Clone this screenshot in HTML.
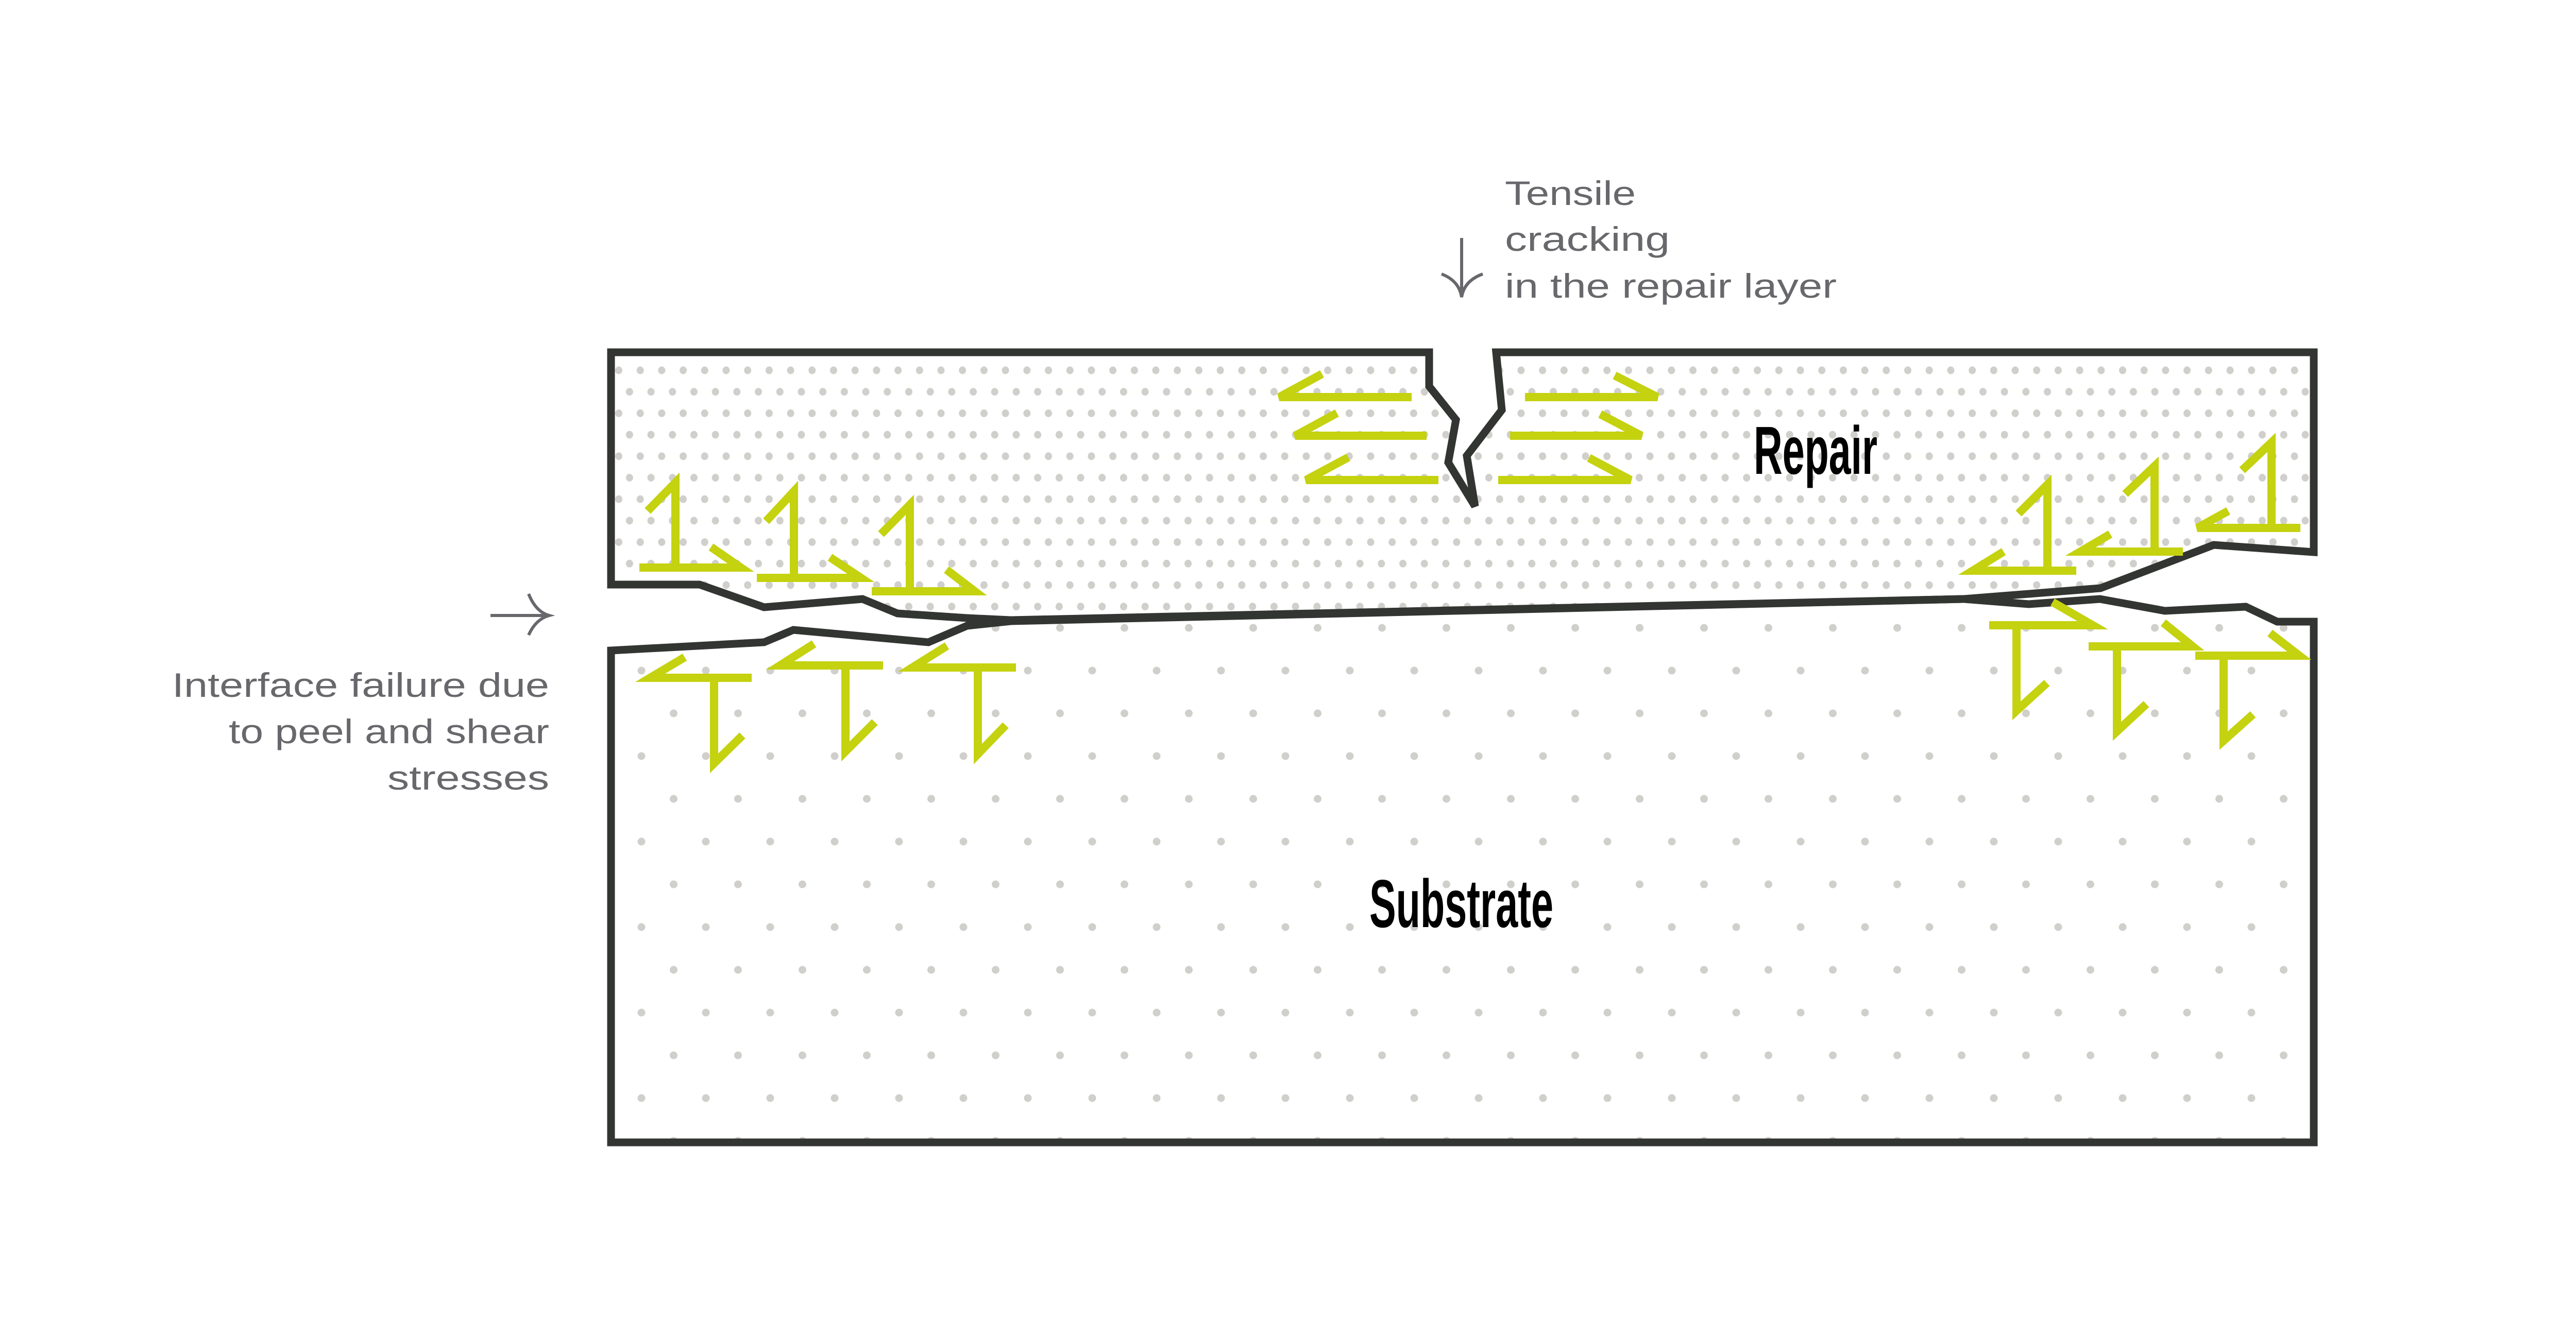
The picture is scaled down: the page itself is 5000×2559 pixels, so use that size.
<!DOCTYPE html>
<html><head><meta charset="utf-8"><style>
html,body{margin:0;padding:0;background:#fff;}
svg{display:block;}
</style></head><body>
<svg width="5000" height="2559" viewBox="0 0 5000 2559" xmlns="http://www.w3.org/2000/svg">
<defs>
<pattern id="rp" x="1201" y="719" width="41.7" height="83.4" patternUnits="userSpaceOnUse">
<ellipse cx="0" cy="0" rx="7" ry="7.5" fill="#d0cfcb"/>
<ellipse cx="41.7" cy="0" rx="7" ry="7.5" fill="#d0cfcb"/>
<ellipse cx="0" cy="83.4" rx="7" ry="7.5" fill="#d0cfcb"/>
<ellipse cx="41.7" cy="83.4" rx="7" ry="7.5" fill="#d0cfcb"/>
<ellipse cx="20.85" cy="41.7" rx="7" ry="7.5" fill="#d0cfcb"/>
</pattern>
<pattern id="sp" x="1245" y="1302" width="125" height="166" patternUnits="userSpaceOnUse">
<circle cx="0" cy="0" r="7.5" fill="#d0cfcb"/>
<circle cx="125" cy="0" r="7.5" fill="#d0cfcb"/>
<circle cx="0" cy="166" r="7.5" fill="#d0cfcb"/>
<circle cx="125" cy="166" r="7.5" fill="#d0cfcb"/>
<circle cx="62.5" cy="83" r="7.5" fill="#d0cfcb"/>
</pattern>
</defs>

<!-- Substrate -->
<polygon points="1186,1263 1483,1247 1540,1223 1802,1247 1877,1215 1962,1206 3812,1163 3938,1173 4076,1163 4202,1186 4359,1178 4420,1207 4491,1207 4491,2218 1186,2218" fill="url(#sp)" stroke="#323532" stroke-width="15" stroke-linejoin="miter"/>
<!-- Repair -->
<polygon points="1186,684 2774,684 2774,750 2826,815 2811,898 2863,983 2847,885 2915,796 2904,684 4491,684 4491,1072 4297,1058 4077,1142 3812,1163 1962,1204 1877,1200 1742,1191 1674,1163 1483,1179 1358,1135 1186,1135" fill="url(#rp)" stroke="#323532" stroke-width="15" stroke-linejoin="miter"/>

<g fill="none" stroke="#c4d20f" stroke-width="16" stroke-linecap="butt" stroke-linejoin="miter">
<polyline points="1257,992 1311,937 1311,1102"/><polyline points="1241,1102 1438,1102 1380,1062"/>
<polyline points="1487,1012 1541,954 1541,1122"/><polyline points="1469,1122 1671,1122 1611,1082"/>
<polyline points="1710,1037 1766,980 1766,1148"/><polyline points="1692,1148 1892,1148 1837,1106"/>
<polyline points="1329,1276 1262,1316 1459,1316"/><polyline points="1386,1316 1386,1482 1441,1428"/>
<polyline points="1580,1250 1514,1292 1714,1292"/><polyline points="1641,1292 1641,1459 1698,1402"/>
<polyline points="1838,1254 1771,1296 1972,1296"/><polyline points="1898,1296 1898,1464 1952,1408"/>
<polyline points="2566,726 2483,771 2740,771"/>
<polyline points="2595,802 2514,846 2769,846"/>
<polyline points="2617,888 2535,932 2792,932"/>
<polyline points="3134,729 3217,771 2960,771"/>
<polyline points="3106,804 3186,846 2931,846"/>
<polyline points="3084,889 3165,932 2908,932"/>
<polyline points="3918,997 3974,941 3974,1108"/><polyline points="3889,1071 3829,1108 4030,1108"/>
<polyline points="4125,959 4182,905 4182,1071"/><polyline points="4096,1037 4038,1071 4237,1071"/>
<polyline points="4352,913 4409,859 4409,1025"/><polyline points="4325,992 4265,1025 4465,1025"/>
<polyline points="3861,1214 4062,1214 3984,1169"/><polyline points="3914,1214 3914,1380 3973,1326"/>
<polyline points="4054,1255 4256,1255 4199,1209"/><polyline points="4109,1255 4109,1420 4166,1367"/>
<polyline points="4261,1273 4463,1273 4406,1229"/><polyline points="4316,1273 4316,1438 4373,1387"/>
</g>

<g font-family="'Liberation Sans Narrow','Liberation Sans',sans-serif" font-weight="bold" fill="#000">
<text x="3404" y="920" font-size="132" textLength="240" lengthAdjust="spacingAndGlyphs">Repair</text>
<text x="2658" y="1800" font-size="132" textLength="357" lengthAdjust="spacingAndGlyphs">Substrate</text>
</g>
<g font-family="'Liberation Sans',sans-serif" font-size="66" fill="#68686c">
<text x="2921" y="398" textLength="254" lengthAdjust="spacingAndGlyphs">Tensile</text>
<text x="2921" y="487" textLength="320" lengthAdjust="spacingAndGlyphs">cracking</text>
<text x="2921" y="578" textLength="644" lengthAdjust="spacingAndGlyphs">in the repair layer</text>
<text x="1066" y="1353" text-anchor="end" textLength="732" lengthAdjust="spacingAndGlyphs">Interface failure due</text>
<text x="1066" y="1443" text-anchor="end" textLength="622" lengthAdjust="spacingAndGlyphs">to peel and shear</text>
<text x="1066" y="1533" text-anchor="end" textLength="314" lengthAdjust="spacingAndGlyphs">stresses</text>
</g>
<g fill="none" stroke="#68686c" stroke-width="6">
<line x1="2837" y1="462" x2="2837" y2="577"/>
<path d="M2798,532 Q2832,545 2837,577 Q2842,545 2878,532"/>
<line x1="952" y1="1195" x2="1066" y2="1195"/>
<path d="M1026,1153 Q1040,1188 1066,1195 Q1040,1202 1026,1233"/>
</g>
</svg>
</body></html>
